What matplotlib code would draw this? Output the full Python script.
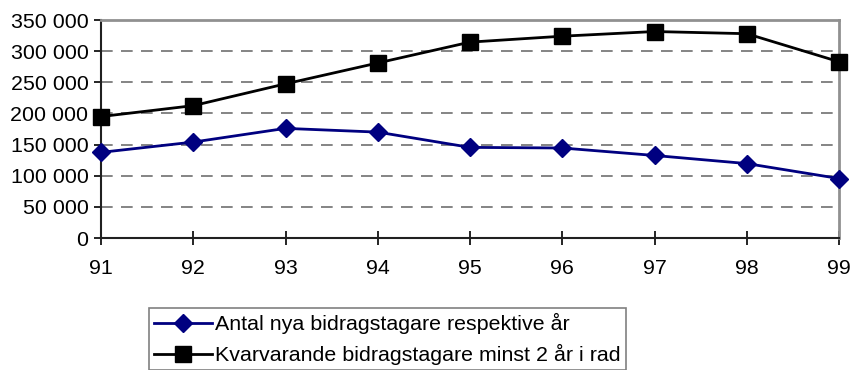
import matplotlib.pyplot as plt
import numpy as np

plt.rcParams['font.family'] = ['Liberation Sans', 'DejaVu Sans']

years = ['91', '92', '93', '94', '95', '96', '97', '98', '99']
nya = [137500, 154000, 176000, 170000, 145500, 144500, 132500, 119500, 95500]
kvar = [195000, 212500, 247500, 281000, 314500, 324000, 331500, 328000, 283000]
yticks = [0, 50000, 100000, 150000, 200000, 250000, 300000, 350000]

fig = plt.figure(figsize=(8.51, 3.70), dpi=100)
ax = fig.add_axes([101 / 851, 1 - 238 / 370, (839 - 101) / 851, (238 - 20) / 370])

x = np.arange(len(years))
ax.plot(x, nya, color='#000080', linewidth=2, marker='D', markersize=9,
        label='Antal nya bidragstagare respektive år', clip_on=False, zorder=4)
ax.plot(x, kvar, color='black', linewidth=2, marker='s', markersize=11,
        label='Kvarvarande bidragstagare minst 2 år i rad', clip_on=False, zorder=3)

ax.set_xlim(0, len(years) - 1)
ax.set_ylim(0, 350000)
ax.set_xticks(x)
ax.set_xticklabels(years)
ax.set_yticks(yticks)
ax.set_yticklabels([f'{v:,}'.replace(',', ' ') for v in yticks])
ax.tick_params(axis='both', labelsize=15.4, colors='black')
ax.tick_params(axis='x', direction='inout', length=10, width=1.2, pad=10)
ax.tick_params(axis='y', direction='out', length=5, width=1.2, pad=4)

for v in yticks[1:-1]:
    ax.axhline(v, color='#707070', linewidth=1.2, linestyle=(0, (7, 5)), zorder=1)

ax.spines['left'].set_color('#202020')
ax.spines['bottom'].set_color('#202020')
ax.spines['left'].set_linewidth(1.5)
ax.spines['bottom'].set_linewidth(1.5)
ax.spines['top'].set_color('#909090')
ax.spines['right'].set_color('#909090')
ax.spines['top'].set_linewidth(2)
ax.spines['right'].set_linewidth(2)

leg = fig.legend(loc='upper left', bbox_to_anchor=(149 / 851, 1 - 308 / 370),
                 fontsize=15.4, frameon=True, fancybox=False, handlelength=2.7,
                 handletextpad=0.15, borderpad=0.25, labelspacing=0.45,
                 borderaxespad=0)
leg.get_frame().set_edgecolor('#606060')
leg.get_frame().set_linewidth(1.2)

plt.savefig('out.png', dpi=100)
